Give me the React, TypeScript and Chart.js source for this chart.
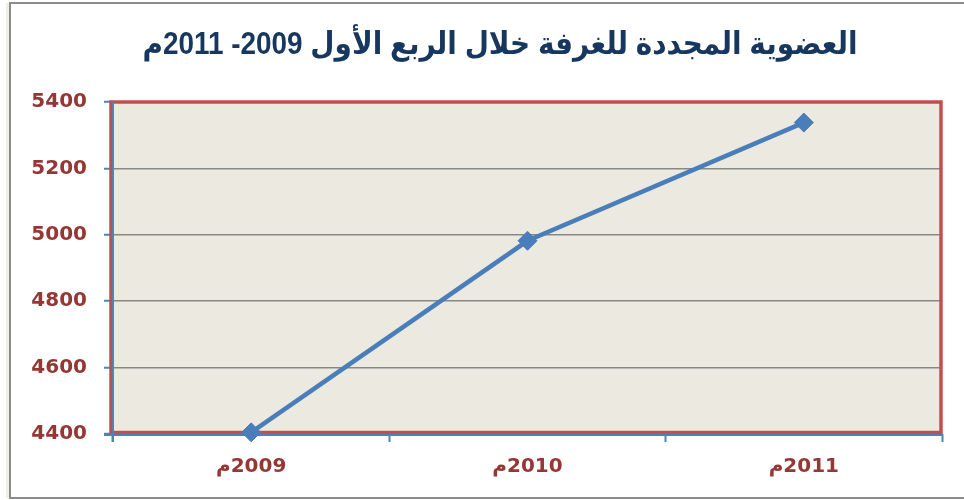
import React, { useEffect, useRef } from "react";
import { Chart, registerables } from "chart.js";

Chart.register(...registerables);

const TITLE = "العضوية المجددة للغرفة خلال الربع الأول 2009- 2011م";
const categories = ["2009م", "2010م", "2011م"];
const memberValues = [4405, 4982, 5338];
const yTickValues = [4400, 4600, 4800, 5000, 5200, 5400];

const LABEL_RED = "#953735";
const FRAME_RED = "#C0504D";
const AXIS_BLUE = "#4F81BD";
const LINE_BLUE = "#4A7EBB";
const GRID_GRAY = "#878787";
const PLOT_BG = "#ECEAE0";

const framePlugin = {
  id: "framePlugin",
  beforeDraw(chart: any) {
    const { ctx, chartArea: a, width, height } = chart;
    ctx.save();
    ctx.fillStyle = "#ffffff";
    ctx.fillRect(0, 0, width, height);
    ctx.fillStyle = "#EEF1E2";
    ctx.fillRect(6, 3, 3, 495);
    ctx.strokeStyle = "#8C8C8C";
    ctx.lineWidth = 2;
    ctx.beginPath();
    ctx.moveTo(width + 5, 3);
    ctx.lineTo(10, 3);
    ctx.lineTo(10, 498);
    ctx.lineTo(width + 5, 498);
    ctx.stroke();
    ctx.fillStyle = PLOT_BG;
    ctx.fillRect(a.left, a.top, a.right - a.left, a.bottom - a.top);
    ctx.direction = "rtl";
    ctx.textAlign = "center";
    ctx.textBaseline = "middle";
    ctx.fillStyle = "#17375E";
    ctx.font = "bold 31px 'Liberation Sans', 'DejaVu Sans', sans-serif";
    ctx.translate(500, 45);
    ctx.scale(0.9, 1);
    ctx.fillText(TITLE, 0, 0);
    ctx.restore();
  },
  beforeDatasetsDraw(chart: any) {
    const { ctx, chartArea: a } = chart;
    ctx.save();
    ctx.strokeStyle = FRAME_RED;
    ctx.lineWidth = 3.5;
    ctx.strokeRect(a.left - 2, a.top, a.right - a.left + 1, a.bottom - a.top - 1.5);
    ctx.strokeStyle = AXIS_BLUE;
    ctx.lineWidth = 2;
    ctx.beginPath();
    ctx.moveTo(a.left, a.top);
    ctx.lineTo(a.left, a.bottom + 8);
    ctx.moveTo(a.left - 9, a.bottom + 1);
    ctx.lineTo(a.right, a.bottom + 1);
    ctx.stroke();
    ctx.restore();
  },
};

export default function App() {
  const canvasRef = useRef<HTMLCanvasElement | null>(null);

  useEffect(() => {
    const canvas = canvasRef.current;
    if (!canvas) return;
    const chart = new Chart(canvas, {
      type: "line",
      data: {
        labels: categories,
        datasets: [
          {
            data: memberValues,
            borderColor: LINE_BLUE,
            backgroundColor: LINE_BLUE,
            borderWidth: 4.5,
            pointStyle: "rectRot",
            pointRadius: 9.5,
            pointBorderWidth: 1,
            pointBackgroundColor: LINE_BLUE,
            pointBorderColor: LINE_BLUE,
            tension: 0,
            clip: false as any,
          },
        ],
      },
      options: {
        responsive: false,
        animation: false,
        layout: { padding: { left: 0, top: 102, right: 22, bottom: 0 } },
        plugins: {
          legend: { display: false },
          title: { display: false },
          tooltip: { enabled: false },
        },
        scales: {
          x: {
            type: "category",
            offset: true,
            afterFit: (s: any) => {
              s.height = 66;
            },
            border: { display: false },
            grid: {
              offset: true,
              drawOnChartArea: false,
              drawTicks: true,
              tickLength: 8,
              tickColor: AXIS_BLUE,
              tickWidth: 2,
            },
            ticks: {
              color: LABEL_RED,
              padding: 13,
              font: { family: "'DejaVu Sans', sans-serif", size: 20, weight: "bold" },
              callback: (_v: any, i: number) => "\u2067" + categories[i] + "\u2069",
            },
          },
          y: {
            min: 4400,
            max: 5400,
            afterFit: (s: any) => {
              s.width = 113;
            },
            afterBuildTicks: (s: any) => {
              s.ticks = yTickValues.map((v) => ({ value: v }));
            },
            border: { display: false },
            grid: {
              color: GRID_GRAY,
              lineWidth: 1.5,
              tickLength: 9,
              tickColor: AXIS_BLUE,
              tickWidth: 2,
            },
            ticks: {
              color: LABEL_RED,
              padding: 17,
              font: { family: "'DejaVu Sans', sans-serif", size: 20, weight: "bold" },
              callback: (v: any) => String(v),
            },
          },
        },
      },
      plugins: [framePlugin],
    });
    return () => chart.destroy();
  }, []);

  return (
    <div style={{ position: "absolute", left: 0, top: 0, width: 964, height: 500 }}>
      <canvas ref={canvasRef} width={964} height={500} style={{ display: "block" }} />
    </div>
  );
}
